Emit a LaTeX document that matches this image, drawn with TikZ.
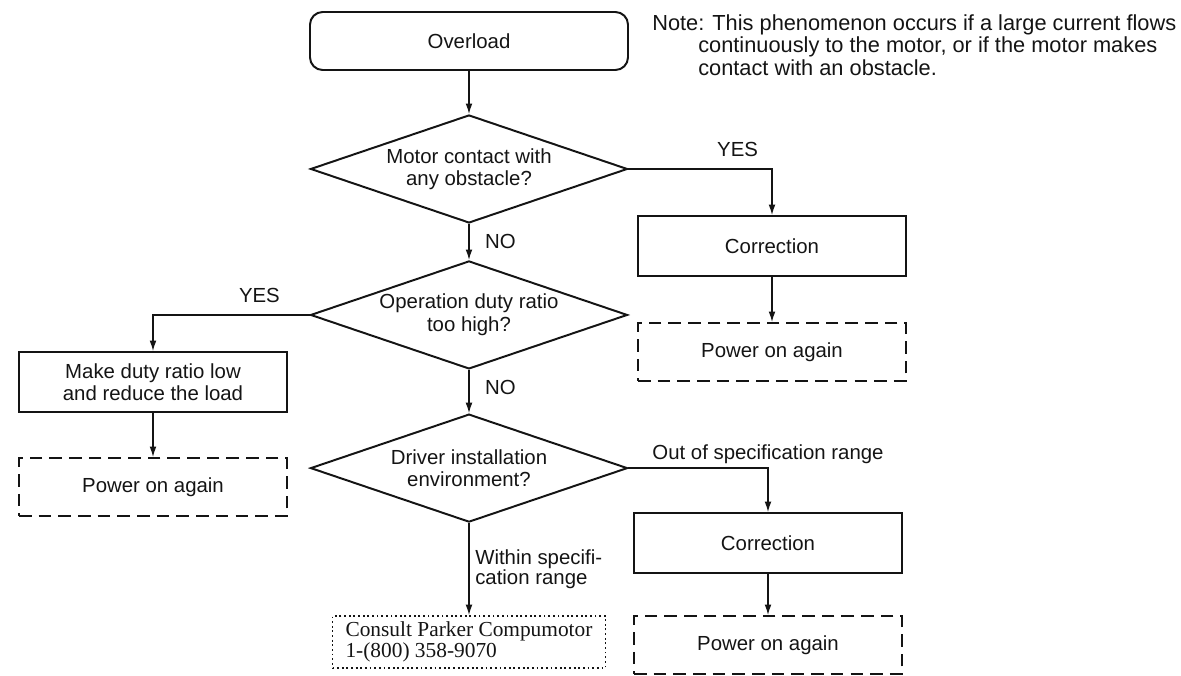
\documentclass[tikz,border=0pt]{standalone}
\usepackage{fontspec}
\setmainfont{Liberation Sans}
\newfontfamily\consultfont{Liberation Serif}
\usetikzlibrary{shapes.geometric, arrows.meta, positioning, calc}
\definecolor{inkBlack}{HTML}{141414}
\tikzset{
  base/.style={
    rectangle, align=center,
    minimum width=6.7cm, minimum height=1.5cm,
    inner sep=3pt,
    draw=inkBlack, line width=1.4pt, text=inkBlack,
    font=\fontsize{14.5}{16}\selectfont
  },
  start/.style={base, rounded corners=9pt, minimum width=7.95cm, minimum height=1.45cm},
  decision/.style={base, diamond, aspect=2.9, inner sep=0pt, minimum width=7.925cm, minimum height=2.7cm},
  fix/.style={base},
  retry/.style={base, minimum height=1.45cm, dash pattern=on 9pt off 5pt},
  consult/.style={base, align=left, minimum width=6.825cm, minimum height=1.3cm, line width=1.4pt, dash pattern=on 1.3pt off 2pt, font=\consultfont\fontsize{15.2}{12.5}\selectfont},
  flow/.style={-{Latex[length=2.6mm, width=1.7mm]}, draw=inkBlack, line width=0.9pt},
  edgelbl/.style={inner sep=2pt, text=inkBlack, font=\fontsize{14.5}{13}\selectfont}
}

\begin{document}
\begin{tikzpicture}
    \useasboundingbox (0,0) rectangle (29.525,-16.875);

    \node[start] (over) at (11.725,-1.025) {Overload};
    \node[decision, below=1.075cm of over] (d1) {Motor contact with\\any obstacle?};
    \node[decision, below=0.9cm of d1] (d2) {Operation duty ratio\\too high?};
    \node[decision, below=1.08cm of d2] (d3) {Driver installation\\environment?};
    \node[consult, below=2.3cm of d3] (call) {Consult Parker Compumotor\\1-(800) 358-9070};

    \node[fix] (corr1) at (19.3,-6.15) {Correction};
    \node[retry, below=1.125cm of corr1] (pwr1) {Power on again};
    \node[fix] (make) at (3.825,-9.55) {Make duty ratio low\\and reduce the load};
    \node[retry, below=1.1cm of make] (pwr2) {Power on again};
    \node[fix] (corr2) at (19.2,-13.575) {Correction};
    \node[retry, below=1.025cm of corr2] (pwr3) {Power on again};

    \node[anchor=north west, align=left, inner sep=0pt, text=inkBlack, font=\fontsize{15.5}{16}\selectfont] (note) at (16.3,-0.35)
      {Note: This phenomenon occurs if a large current flows\\
       \hspace*{1.15cm}continuously to the motor, or if the motor makes\\
       \hspace*{1.15cm}contact with an obstacle.};

    \draw[flow] (over) -- (d1);
    \draw[flow] (d1) -- node[edgelbl, right, xshift=9pt] {NO} (d2);
    \draw[flow] (d1.east) -| node[edgelbl, above, pos=0.38, yshift=6pt] {YES} (corr1.north);
    \draw[flow] (corr1) -- (pwr1);
    \draw[flow] (d2) -- node[edgelbl, right, xshift=9pt, pos=0.4] {NO} (d3);
    \draw[flow] (d2.west) -| node[edgelbl, above, pos=0.16, yshift=6pt] {YES} (make.north);
    \draw[flow] (make) -- (pwr2);
    \draw[flow] (d3.east) -| node[edgelbl, above, pos=0.5, yshift=1pt] {Out of specification range} (corr2.north);
    \draw[flow] (corr2) -- (pwr3);
    \draw[flow] (d3) -- node[edgelbl, right, xshift=2pt, align=left] {Within specifi-\\cation range} (call);
\end{tikzpicture}
\end{document}
